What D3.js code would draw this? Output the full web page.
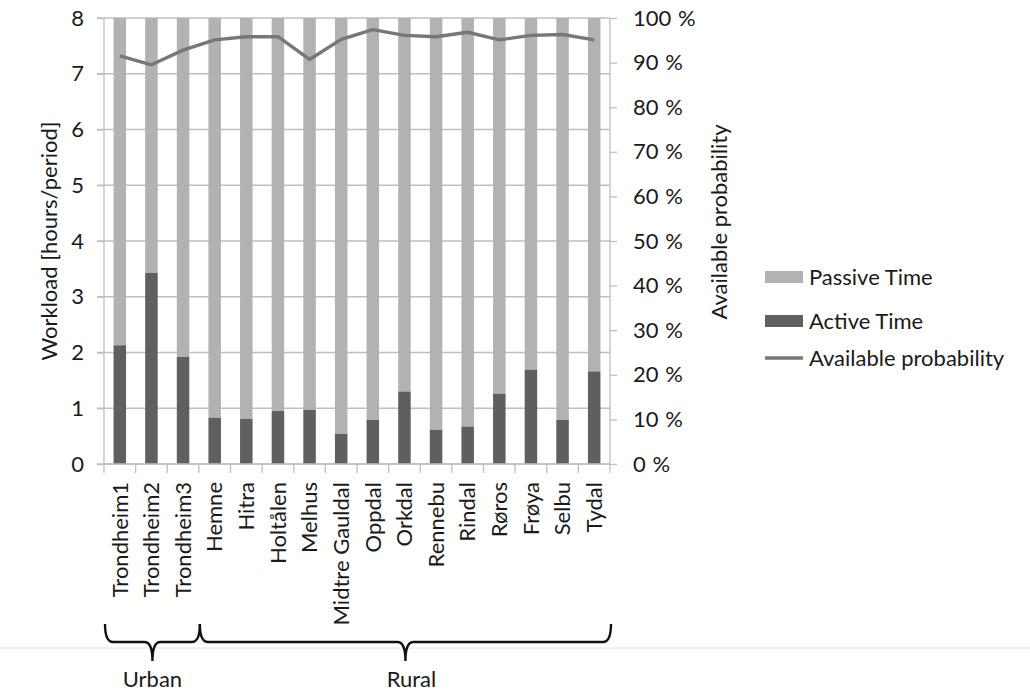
<!DOCTYPE html>
<html>
<head>
<meta charset="utf-8">
<script src="https://cdn.jsdelivr.net/npm/d3@7/dist/d3.min.js"></script>
<style>
  body { margin: 0; background: #fff; }
  svg { display: block; }
  text { font-family: Lato, "Open Sans", sans-serif; fill: #1a1a1a; }
</style>
</head>
<body>
<svg id="chart" width="1030" height="694"></svg>
<script>
const categories = ["Trondheim1","Trondheim2","Trondheim3","Hemne","Hitra","Holtålen","Melhus","Midtre Gauldal","Oppdal","Orkdal","Rennebu","Rindal","Røros","Frøya","Selbu","Tydal"];
const activeTime = [2.13,3.43,1.92,0.83,0.81,0.95,0.97,0.54,0.79,1.30,0.61,0.67,1.26,1.69,0.79,1.66];
const passiveTime = [5.87,4.57,6.08,7.17,7.19,7.05,7.03,7.46,7.21,6.70,7.39,7.33,6.74,6.31,7.21,6.34];
const availableProbability = [0.915,0.895,0.928,0.951,0.958,0.958,0.907,0.952,0.974,0.961,0.958,0.968,0.951,0.961,0.963,0.951];
const leftTicks = [0,1,2,3,4,5,6,7,8];
const rightTicks = [0,0.1,0.2,0.3,0.4,0.5,0.6,0.7,0.8,0.9,1.0];
const groups = [{label:"Urban", from:0, to:2}, {label:"Rural", from:3, to:15}];

(function(){
const svg = d3.select("#chart");
const pL = 104, pR = 610, pT = 18, pB = 464;
const fs = 22;

const x = d3.scaleBand().domain(categories).range([pL, pR]).paddingInner(0).paddingOuter(0);
const y = d3.scaleLinear().domain([0, 8]).range([pB, pT]);
const y2 = d3.scaleLinear().domain([0, 1]).range([pB, pT]);
const gridColor = "#bfbfbf";
const barW = 12.5;

// gridlines
svg.append("g").selectAll("line").data(leftTicks).join("line")
  .attr("x1", pL - 7).attr("x2", pR)
  .attr("y1", d => y(d)).attr("y2", d => y(d))
  .attr("stroke", gridColor).attr("stroke-width", 1.3);

// bars
const stackData = categories.map((c, i) => ({c, a: activeTime[i], p: passiveTime[i]}));
svg.append("g").selectAll("rect").data(stackData).join("rect")
  .attr("x", d => x(d.c) + x.bandwidth()/2 - barW/2).attr("width", barW)
  .attr("y", d => y(d.a + d.p)).attr("height", d => y(d.a) - y(d.a + d.p))
  .attr("fill", "#b2b2b2");
svg.append("g").selectAll("rect").data(stackData).join("rect")
  .attr("x", d => x(d.c) + x.bandwidth()/2 - barW/2).attr("width", barW)
  .attr("y", d => y(d.a)).attr("height", d => y(0) - y(d.a))
  .attr("fill", "#5f5f5f");

// left axis
const gl = svg.append("g").attr("transform", `translate(${pL},0)`)
  .call(d3.axisLeft(y).tickValues(leftTicks).tickSize(7).tickPadding(13).tickFormat(d3.format("d")));
// right axis
const gr = svg.append("g").attr("transform", `translate(${pR},0)`)
  .call(d3.axisRight(y2).tickValues(rightTicks).tickSize(7).tickPadding(16).tickFormat(d => Math.round(d*100) + " %"));
// bottom axis with ticks at band boundaries
const gb = svg.append("g").attr("transform", `translate(0,${pB})`)
  .call(d3.axisBottom(x).tickSize(0).tickPadding(0).tickFormat(""));
gb.selectAll(".tick").remove();
const bounds = categories.map(c => x(c)).concat([pR]);
gb.selectAll("line.b").data(bounds).join("line").attr("class","b")
  .attr("x1", d => d).attr("x2", d => d).attr("y1", 0).attr("y2", 9)
  .attr("stroke", gridColor).attr("stroke-width", 1.3);

[gl, gr, gb].forEach(g => {
  g.select(".domain").attr("stroke", gridColor).attr("stroke-width", 1.3);
  g.selectAll(".tick line").attr("stroke", gridColor).attr("stroke-width", 1.3);
  g.selectAll(".tick text").attr("font-size", fs).attr("fill", "#1a1a1a").attr("font-family", "Lato, sans-serif");
});
gr.selectAll(".tick text").attr("word-spacing", "1px");
gl.select(".domain").attr("d", `M0,${pB}V${pT}`);
gr.select(".domain").attr("d", `M0,${pB}V${pT}`);
gb.select(".domain").attr("d", `M${pL},0H${pR}`);

// category labels
svg.append("g").selectAll("text").data(categories).join("text")
  .attr("transform", d => `translate(${x(d) + x.bandwidth()/2},482) rotate(-90)`)
  .attr("text-anchor", "end").attr("dy", "0.35em")
  .attr("font-size", fs).text(d => d);

// line
const line = d3.line().x((d, i) => x(categories[i]) + x.bandwidth()/2).y(d => y2(d));
svg.append("path").datum(availableProbability).attr("d", line)
  .attr("fill", "none").attr("stroke", "#777").attr("stroke-width", 3.4).attr("stroke-linejoin", "round");

// axis titles
svg.append("text").attr("transform", `translate(49,${(pT+pB)/2}) rotate(-90)`)
  .attr("text-anchor", "middle").attr("dy", "0.35em").attr("font-size", fs).text("Workload [hours/period]");
svg.append("text").attr("transform", `translate(719,222) rotate(-90)`)
  .attr("text-anchor", "middle").attr("dy", "0.35em").attr("font-size", fs).text("Available probability");

// legend
const lg = svg.append("g");
const legendItems = [
  {label: "Passive Time", type: "rect", color: "#b2b2b2", y: 277},
  {label: "Active Time", type: "rect", color: "#5f5f5f", y: 321},
  {label: "Available probability", type: "line", color: "#777", y: 358}
];
legendItems.forEach(it => {
  if (it.type === "rect") {
    lg.append("rect").attr("x", 765).attr("y", it.y - 6).attr("width", 38).attr("height", 12).attr("fill", it.color);
  } else {
    lg.append("line").attr("x1", 765).attr("x2", 803).attr("y1", it.y).attr("y2", it.y)
      .attr("stroke", it.color).attr("stroke-width", 3.4);
  }
  lg.append("text").attr("x", 809).attr("y", it.y).attr("dy", "0.35em").attr("font-size", fs).text(it.label);
});

// separator line
svg.append("line").attr("x1", 0).attr("x2", 1030).attr("y1", 648).attr("y2", 648)
  .attr("stroke", "#e3e3e3").attr("stroke-width", 1);

// braces
groups.forEach(g => {
  const x0 = x(categories[g.from]) + 1, x1 = x(categories[g.to]) + x.bandwidth() + 1;
  const xm = (x0 + x1) / 2;
  const yTop = 624, yLine = 642, yTip = 661;
  const p = d3.path();
  p.moveTo(x0, yTop);
  p.quadraticCurveTo(x0, yLine, x0 + 8, yLine);
  p.lineTo(xm - 8, yLine);
  p.quadraticCurveTo(xm, yLine, xm, yTip);
  p.quadraticCurveTo(xm, yLine, xm + 8, yLine);
  p.lineTo(x1 - 8, yLine);
  p.quadraticCurveTo(x1, yLine, x1, yTop);
  svg.append("path").attr("d", p.toString()).attr("fill", "none").attr("stroke", "#111").attr("stroke-width", 2.4);
  svg.append("text").attr("x", xm + (g.label === "Rural" ? 6 : 0)).attr("y", 687).attr("text-anchor", "middle")
    .attr("font-size", fs).text(g.label);
});
})();
</script>
</body>
</html>
